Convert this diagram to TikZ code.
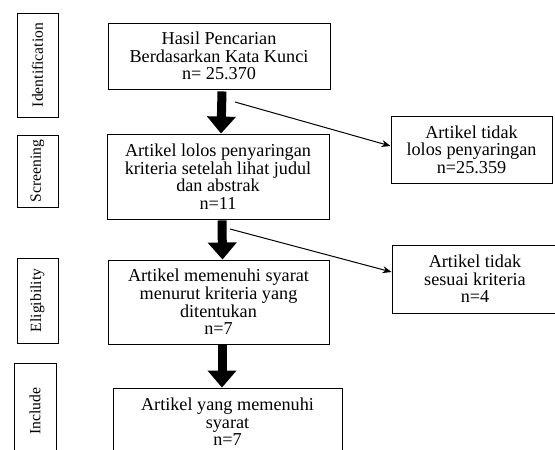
\documentclass[tikz,border=0pt]{standalone}
\usepackage{fontspec}
\setmainfont{Liberation Serif}
\usepackage{tikz}
\usetikzlibrary{arrows.meta}

\tikzset{
  box/.style={draw, line width=0.9pt, align=center, inner sep=0pt,
    font=\fontsize{18.2}{17.6}\selectfont},
  phase/.style={draw, line width=0.9pt, rotate=90, inner sep=0pt,
    minimum height=41pt, font=\fontsize{15.6}{16}\selectfont},
  fat/.style={line width=9pt, -{Triangle[length=17pt,width=28pt]}},
  thin/.style={line width=1pt, -{Stealth[length=9pt,width=7pt]}}
}

\begin{document}
\begin{tikzpicture}[x=1pt,y=-1pt]

\useasboundingbox (0,0) rectangle (555,450);
\clip (0,0) rectangle (555,450);

% phase labels on the left
\node[phase, minimum width=104pt] (ident) at (37.5,65) {Identification};
\node[phase, minimum width=72pt] (screen) at (37.5,171) {Screening};
\node[phase, minimum width=85pt] (elig) at (37.5,300.5) {Eligibility};
\node[phase, minimum width=96pt, minimum height=42pt] (incl) at (35,411) {Include};

% main boxes
\node[box, minimum width=222pt, minimum height=66pt] (hasil) at (219,56)
  {Hasil Pencarian\\Berdasarkan Kata Kunci\\n= 25.370};
\node[box, minimum width=222pt, minimum height=85pt] (lolos) at (218,176.5)
  {Artikel lolos penyaringan\\kriteria setelah lihat judul\\dan abstrak\\n=11};
\node[box, minimum width=221pt, minimum height=84pt] (syarat) at (218.5,302)
  {Artikel memenuhi syarat\\menurut kriteria yang\\ditentukan\\n=7};
\node[box, minimum width=229pt, minimum height=68pt] (include) at (227.5,422)
  {Artikel yang memenuhi\\syarat\\n=7};

% excluded boxes
\node[box, minimum width=161pt, minimum height=67pt] (tolak) at (471.5,149.5)
  {Artikel tidak\\lolos penyaringan\\n=25.359};
\node[box, minimum width=166pt, minimum height=68pt] (tdksesuai) at (475,279)
  {Artikel tidak\\sesuai kriteria\\n=4};

% thick arrows
\draw[fat] ([xshift=3pt,yshift=-2pt]hasil.south) -- ([xshift=3pt]lolos.north);
\draw[fat] ([xshift=4pt,yshift=-1pt]lolos.south) -- ([xshift=4pt]syarat.north);
\draw[fat] ([xshift=3.5pt,yshift=-1pt]syarat.south) -- ([xshift=-5.5pt]include.north);

% thin arrows
\coordinate (c1) at (235,102);
\coordinate (c2) at (230,229);
\draw[thin] (c1) -- ([yshift=3.5pt]tolak.west);
\draw[thin] (c2) -- ([yshift=7pt]tdksesuai.west);

\end{tikzpicture}
\end{document}
